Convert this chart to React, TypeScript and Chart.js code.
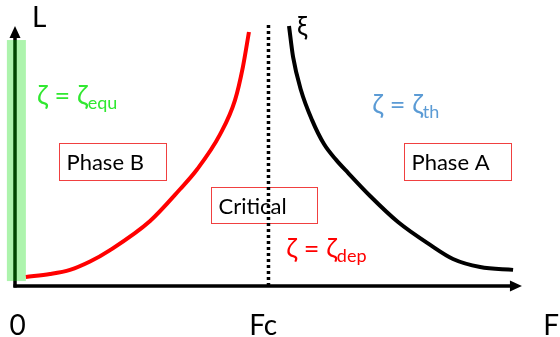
import { useEffect, useRef } from "react";
import { Chart, registerables } from "chart.js";

Chart.register(...registerables);

// ---- data (x in units of Fc, y in units of L) ----
const redF = [0.043, 0.138, 0.217, 0.296, 0.375, 0.533, 0.651, 0.718, 0.809, 0.868, 0.899, 0.923];
const redL = [0.035, 0.046, 0.062, 0.094, 0.138, 0.25, 0.372, 0.448, 0.583, 0.715, 0.842, 0.977];
const blackF = [1.081, 1.097, 1.128, 1.172, 1.219, 1.267, 1.314, 1.401, 1.511, 1.638, 1.728, 1.835, 1.965];
const blackL = [1.0, 0.881, 0.754, 0.638, 0.546, 0.485, 0.435, 0.346, 0.246, 0.158, 0.104, 0.073, 0.062];
const criticalF = [1, 1];
const criticalL = [0, 1.015];
const bandF = [-0.032, 0.043];
const bandL = [0.019, 0.946];
const xTickValues = [0.01, 0.979, 2.115];
const xTickLabels = ["0", "Fc", "F"];
const axisEnd = { x: 2.0, y: 1.0 };

const boxes = [
  { label: "Phase B", x0: 0.174, x1: 0.596, y0: 0.55, y1: 0.408 },
  { label: "Phase A", x0: 1.536, x1: 1.958, y0: 0.55, y1: 0.408 },
  { label: "Critical", x0: 0.774, x1: 1.192, y0: 0.381, y1: 0.242 },
];
const zetaLabels = [
  { sub: "equ", x: 0.087, y: 0.696, color: "#30e830" },
  { sub: "th", x: 1.409, y: 0.662, color: "#5b9bd5" },
  { sub: "dep", x: 1.07, y: 0.108, color: "#ff0000" },
];
const FONT = "Lato, 'DejaVu Sans', sans-serif";

const toPts = (xs: number[], ys: number[]) => xs.map((x, i) => ({ x, y: ys[i] }));

const decor = {
  id: "decor",
  beforeDatasetsDraw(chart: any) {
    const { ctx } = chart;
    const sx = chart.scales.x;
    const sy = chart.scales.y;
    const px = (v: number) => sx.getPixelForValue(v);
    const py = (v: number) => sy.getPixelForValue(v);
    ctx.save();
    const ox = px(0);
    const oy = py(0);
    // axes
    ctx.strokeStyle = "#000";
    ctx.fillStyle = "#000";
    ctx.lineWidth = 3.5;
    ctx.beginPath();
    ctx.moveTo(ox, oy + 1.5);
    ctx.lineTo(ox, py(axisEnd.y) + 10);
    ctx.stroke();
    ctx.beginPath();
    ctx.moveTo(ox, py(axisEnd.y));
    ctx.lineTo(ox - 5.5, py(axisEnd.y) + 12);
    ctx.lineTo(ox + 5.5, py(axisEnd.y) + 12);
    ctx.closePath();
    ctx.fill();
    ctx.beginPath();
    ctx.moveTo(ox - 1.5, oy);
    ctx.lineTo(px(axisEnd.x) - 10, oy);
    ctx.stroke();
    ctx.beginPath();
    ctx.moveTo(px(axisEnd.x), oy);
    ctx.lineTo(px(axisEnd.x) - 12, oy - 5.5);
    ctx.lineTo(px(axisEnd.x) - 12, oy + 5.5);
    ctx.closePath();
    ctx.fill();
    // green band
    ctx.fillStyle = "rgba(0,220,0,0.32)";
    ctx.fillRect(px(bandF[0]), py(bandL[1]), px(bandF[1]) - px(bandF[0]), py(bandL[0]) - py(bandL[1]));
    // boxes
    ctx.lineWidth = 1;
    ctx.strokeStyle = "#f04040";
    ctx.textBaseline = "alphabetic";
    for (const b of boxes) {
      const x0 = Math.round(px(b.x0)) + 0.5;
      const x1 = Math.round(px(b.x1)) + 0.5;
      const y0 = Math.round(py(b.y0)) + 0.5;
      const y1 = Math.round(py(b.y1)) + 0.5;
      ctx.fillStyle = "#fff";
      ctx.fillRect(x0, y0, x1 - x0, y1 - y0);
      ctx.strokeRect(x0, y0, x1 - x0, y1 - y0);
      ctx.fillStyle = "#000";
      ctx.font = `22px ${FONT}`;
      ctx.textAlign = "left";
      ctx.fillText(b.label, x0 + 7, y0 + 26);
    }
    // zeta labels
    for (const z of zetaLabels) {
      ctx.fillStyle = z.color;
      ctx.font = `27px ${FONT}`;
      ctx.textAlign = "left";
      const main = "\u03B6 = \u03B6";
      const x = px(z.x);
      const y = py(z.y);
      ctx.fillText(main, x, y);
      const w = ctx.measureText(main).width;
      ctx.font = `18px ${FONT}`;
      ctx.fillText(z.sub, x + w, y + 4);
    }
    // axis letters
    ctx.fillStyle = "#000";
    ctx.font = `28px ${FONT}`;
    ctx.textAlign = "left";
    ctx.fillText("L", px(0.067), py(0.996));
    ctx.font = `26px ${FONT}`;
    ctx.fillText("\u03BE", px(1.113), py(0.962));
    ctx.font = `28px ${FONT}`;
    ctx.textAlign = "center";
    xTickValues.forEach((v, i) => ctx.fillText(xTickLabels[i], px(v), py(-0.188)));
    ctx.restore();
  },
};

export default function App() {
  const ref = useRef<HTMLCanvasElement>(null);
  useEffect(() => {
    if (!ref.current) return;
    const chart = new Chart(ref.current, {
      type: "line",
      data: {
        datasets: [
          {
            data: toPts(redF, redL),
            borderColor: "#ff0000",
            borderWidth: 4,
            pointRadius: 0,
            cubicInterpolationMode: "monotone",
            clip: false as any,
          },
          {
            data: toPts(blackF, blackL),
            borderColor: "#000000",
            borderWidth: 4,
            pointRadius: 0,
            cubicInterpolationMode: "monotone",
            clip: false as any,
          },
          {
            data: toPts(criticalF, criticalL),
            borderColor: "#000000",
            borderWidth: 3.5,
            borderDash: [3, 3],
            pointRadius: 0,
            clip: false as any,
          },
        ],
      },
      options: {
        animation: false,
        responsive: true,
        maintainAspectRatio: false,
        layout: { padding: { left: 15, top: 26, right: 12.7, bottom: 51 } },
        plugins: { legend: { display: false }, tooltip: { enabled: false }, title: { display: false } },
        events: [],
        scales: {
          x: { type: "linear", min: 0, max: 2.1, display: false },
          y: { type: "linear", min: 0, max: 1, display: false },
        },
      },
      plugins: [decor],
    });
    return () => chart.destroy();
  }, []);
  return (
    <div style={{ position: "absolute", left: 0, top: 0, width: 560, height: 337, background: "#fff" }}>
      <canvas ref={ref} />
    </div>
  );
}
